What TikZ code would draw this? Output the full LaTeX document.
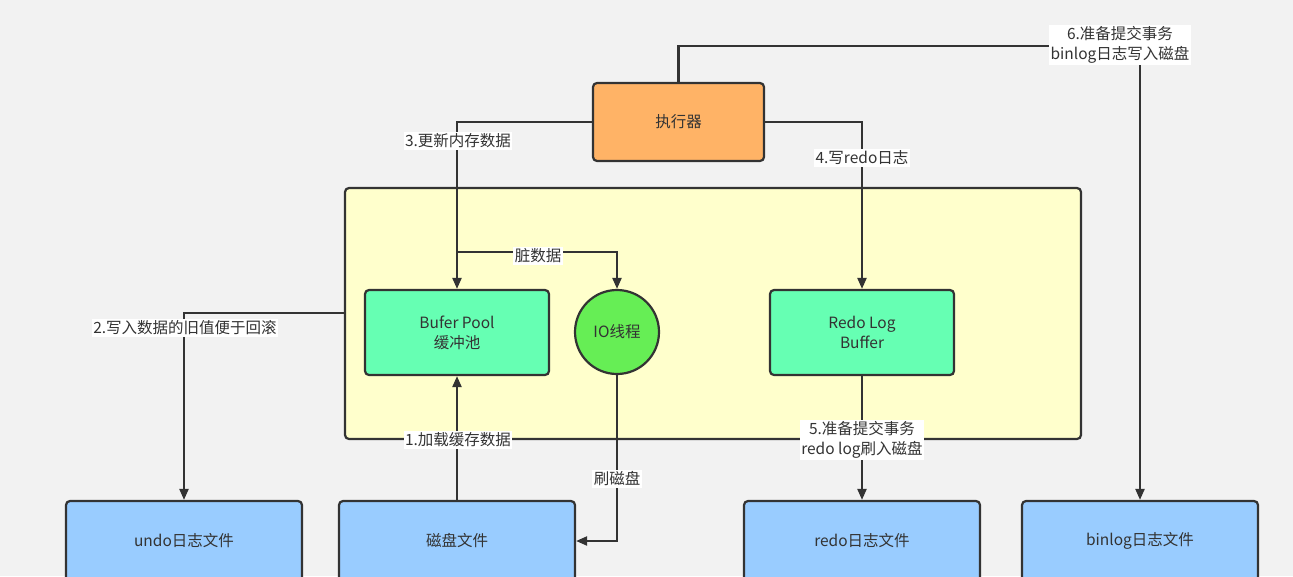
\documentclass[tikz,border=0pt]{standalone}
\usepackage{fontspec}
\setmainfont{Noto Sans CJK SC}
\usetikzlibrary{arrows.meta}
\definecolor{bgc}{HTML}{F2F2F2}
\definecolor{ink}{HTML}{333333}
\definecolor{orangec}{HTML}{FFB366}
\definecolor{yellowc}{HTML}{FFFFCC}
\definecolor{mintc}{HTML}{66FFB3}
\definecolor{greenc}{HTML}{66EE55}
\definecolor{bluec}{HTML}{99CCFF}
\tikzset{
  boxbase/.style={draw=ink, line width=2.2pt, rounded corners=4pt, text=ink,
    font=\fontsize{15.5}{20}\selectfont, align=center, inner sep=0pt},
  execbox/.style={boxbase, fill=orangec, minimum width=171pt, minimum height=78pt},
  memboxs/.style={boxbase, fill=mintc, minimum width=184pt, minimum height=85pt},
  filebox/.style={boxbase, fill=bluec, minimum width=236pt, minimum height=80pt},
  iothread/.style={boxbase, circle, fill=greenc, minimum size=84pt, rounded corners=0pt},
  container/.style={draw=ink, line width=2.2pt, rounded corners=4pt, fill=yellowc},
  conn/.style={draw=ink, line width=2.2pt, -{Triangle[length=11pt,width=9pt]}},
  lbl/.style={fill=white, text=ink, font=\fontsize{15.5}{20}\selectfont, align=center, inner sep=1.5pt}
}
\begin{document}
\begin{tikzpicture}[x=1pt,y=-1pt]
\useasboundingbox (0,0) rectangle (1293,576);
\clip (0,0) rectangle (1293,576);
\fill[bgc] (0,0) rectangle (1293,576);

% container
\path[container] (345,188) rectangle (1081,439);

% nodes
\node[execbox] (exec) at (678.5,122) {执行器};
\node[memboxs] (bp) at (457,332.5) {Bufer Pool\\缓冲池};
\node[iothread] (io) at (617,332) {IO线程};
\node[memboxs] (rlb) at (862,332.5) {Redo Log\\Buffer};
\node[filebox] (undo) at (184,541) {undo日志文件};
\node[filebox] (disk) at (457,541) {磁盘文件};
\node[filebox] (redo) at (862,541) {redo日志文件};
\node[filebox] (binlog) at (1140,541) {binlog日志文件};

% helper coordinates
\coordinate (t6) at (1140,46);
\coordinate (j) at (457,252);
\coordinate (c2) at (345,313);

% connectors
\draw[conn] (exec.north) |- (t6) -- (binlog.north);
\draw[conn] (exec.west) -| (bp.north);
\draw[conn] (j) -| (io.north);
\draw[conn] (exec.east) -| (rlb.north);
\draw[conn] (c2) -| (undo.north);
\draw[conn] (disk.north) -- (bp.south);
\draw[conn] (io.south) |- (disk.east);
\draw[conn] (rlb.south) -- (redo.north);

% labels
\node[lbl] (l6) at (1120,45) {6.准备提交事务\\binlog日志写入磁盘};
\node[lbl] (l3) at (458,141) {3.更新内存数据};
\node[lbl] (ld) at (538,256) {脏数据};
\node[lbl] (l4) at (862,158) {4.写redo日志};
\node[lbl] (l2) at (185,328) {2.写入数据的旧值便于回滚};
\node[lbl] (l1) at (458,440) {1.加载缓存数据};
\node[lbl] (lf) at (617,479) {刷磁盘};
\node[lbl] (l5) at (862,440) {5.准备提交事务\\redo log刷入磁盘};
\end{tikzpicture}
\end{document}
